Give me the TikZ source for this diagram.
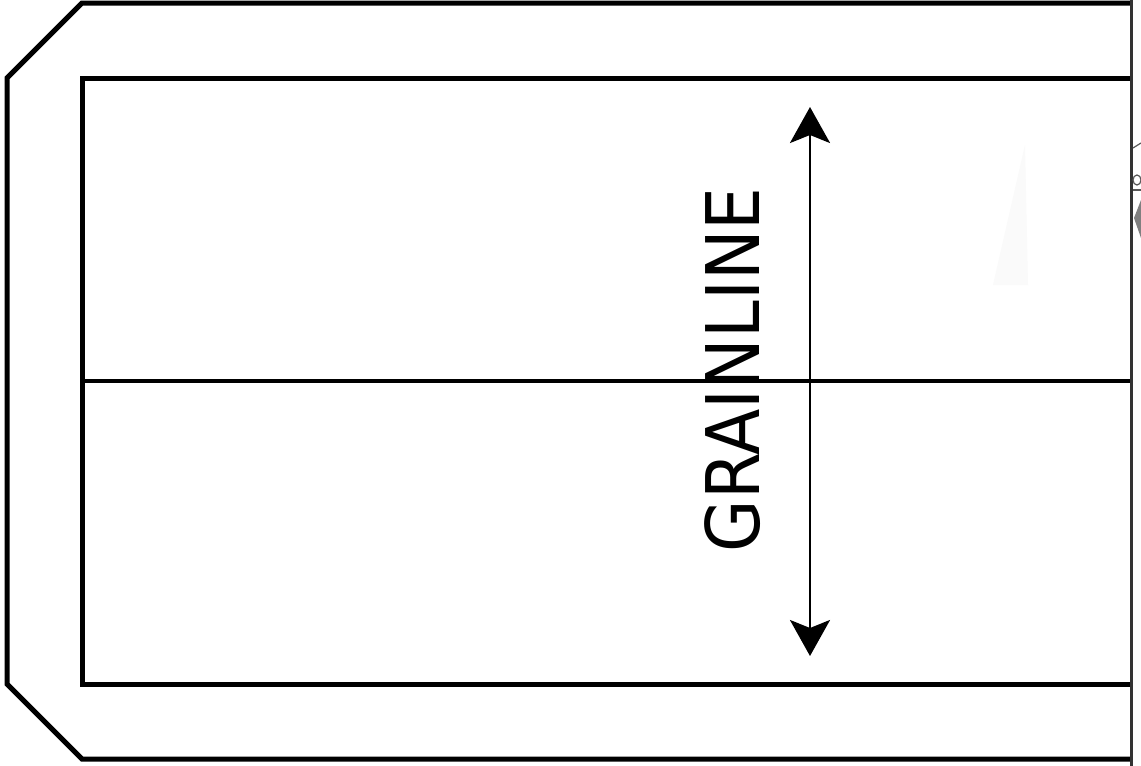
\documentclass[tikz,border=0pt]{standalone}
\usepackage{fontspec}
\setmainfont{DejaVu Sans}
\usetikzlibrary{arrows.meta}
\begin{document}
\begin{tikzpicture}[x=1pt,y=-1pt,
  cutline/.style={draw=black,line width=5pt,line join=miter},
  foldline/.style={draw=black!80,line width=3pt},
  midline/.style={draw=black,line width=4.6pt},
  grain/.style={draw=black,line width=2.6pt,{Stealth[length=36pt,width=40pt,inset=8pt]}-{Stealth[length=36pt,width=40pt,inset=8pt]}},
  scrib/.style={draw=black!65,line width=1.2pt},
  label/.style={font=\fontsize{74pt}{74pt}\selectfont,text=black,inner sep=0pt,rotate=90,anchor=base}]
\useasboundingbox (0,0) rectangle (1141,766);
\fill[white] (0,0) rectangle (1141,766);
\fill[black!2] (1025,145) -- (1028,285) -- (993,285) -- cycle;
\coordinate (ot) at (1131,3);
\coordinate (otl) at (82,3);
\coordinate (lt) at (7,78);
\coordinate (lb) at (7,684);
\coordinate (obl) at (82,759);
\coordinate (ob) at (1131,759);
\coordinate (it) at (1131,78);
\coordinate (itl) at (82,78);
\coordinate (ibl) at (82,684);
\coordinate (ib) at (1131,684);
\coordinate (ml) at (82,381);
\coordinate (mr) at (1131,381);
\coordinate (ft) at (1131,0);
\coordinate (fb) at (1131,766);
\coordinate (gt) at (810,107);
\coordinate (gb) at (810,656);
\node[label] (txt) at (759.5,370) {\scalebox{0.915}[1]{GRAINLINE}};
\draw[cutline] (ot) -- (otl) -- (lt) -- (lb) -- (obl) -- (ob);
\draw[cutline] (it) -- (itl) -- (ibl) -- (ib);
\draw[midline] (ml) -- (mr);
\draw[grain] (gb) -- (gt);
\draw[foldline] (ft) -- (fb);
\draw[scrib] (1133,148) -- (1141,143);
\draw[scrib] (1137,180) ellipse[x radius=4,y radius=5];
\draw[scrib] (1133,190) -- (1141,190);
\fill[black!50] (1134,218) -- (1141,200) -- (1141,238) -- cycle;
\end{tikzpicture}
\end{document}
